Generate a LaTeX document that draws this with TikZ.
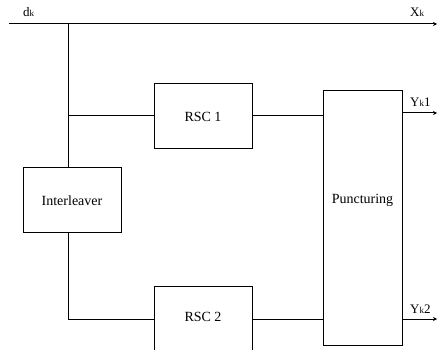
\documentclass[tikz,border=0pt]{standalone}
\usepackage{fontspec}
\setmainfont{Liberation Serif}
\usetikzlibrary{arrows.meta}
\tikzset{
  blk/.style={draw, line width=1pt, inner sep=0pt, font=\fontsize{14}{16}\selectfont},
  wire/.style={line width=1pt},
  outwire/.style={line width=1pt, -{Stealth[length=4pt,width=4pt]}},
  lbl/.style={inner sep=0pt, font=\fontsize{13}{15}\selectfont}
}
\newcommand{\smk}{{\fontsize{9}{10}\selectfont k}}
\begin{document}
\begin{tikzpicture}[x=1pt,y=-1pt]
\useasboundingbox (0,0) rectangle (437,350);
\clip (0,0) rectangle (437,350);
% nodes
\node[blk, minimum width=98pt, minimum height=65pt] (rsc1) at (203,116.5) {RSC 1};
\node[blk, minimum width=98pt, minimum height=65pt] (rsc2) at (203,319.5) {};
\node[font=\fontsize{14}{16}\selectfont, inner sep=0pt] (rsc2t) at (203,317) {RSC 2};
\node[blk, minimum width=98pt, minimum height=65pt] (inter) at (72,200.5) {Interleaver};
\node[blk, minimum width=79pt, minimum height=254pt] (punc) at (362.5,218) {};
\node[font=\fontsize{14}{16}\selectfont, inner sep=0pt] (punct) at (362.5,200) {Puncturing};
% coordinates
\coordinate (in) at (9,24);
\coordinate (j0) at (68,24);
\coordinate (xk) at (437,24);
\coordinate (j1) at (68,116);
\coordinate (j2) at (68,319);
\coordinate (y1) at (437,113);
\coordinate (y2) at (437,319);
% wires
\draw[outwire] (in) -- (xk);
\draw[wire] (j0) -- (j0 |- inter.north);
\draw[wire] (j1) -- (j1 -| rsc1.west);
\draw[wire] (j2 |- inter.south) -- (j2) -- (j2 -| rsc2.west);
\draw[wire] (rsc1.east |- j1) -- (j1 -| punc.west);
\draw[wire] (rsc2.east |- j2) -- (j2 -| punc.west);
\draw[outwire] (y1 -| punc.east) -- (y1);
\draw[outwire] (y2 -| punc.east) -- (y2);
% labels
\node[lbl, anchor=base west] (ldk) at (23,17) {d\smk};
\node[lbl, anchor=base west] (lxk) at (410,17) {X\smk};
\node[lbl, anchor=base west] (ly1) at (410,107) {Y\smk1};
\node[lbl, anchor=base west] (ly2) at (410,313) {Y\smk2};
\end{tikzpicture}
\end{document}
